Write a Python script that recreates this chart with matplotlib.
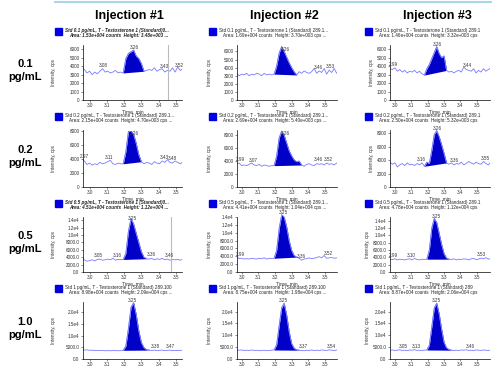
import numpy as np
import matplotlib
matplotlib.use('Agg')
import matplotlib.pyplot as plt
from matplotlib.lines import Line2D
from matplotlib.patches import Rectangle

plt.rcParams['font.family'] = ['Liberation Sans', 'DejaVu Sans']

# retention time grid (min)
time = [2.955, 2.97, 2.985, 3.0, 3.015, 3.03, 3.045, 3.06, 3.075, 3.09,
        3.105, 3.12, 3.135, 3.15, 3.165, 3.18, 3.195, 3.21, 3.225, 3.24,
        3.255, 3.27, 3.285, 3.3, 3.315, 3.33, 3.345, 3.36, 3.375, 3.39,
        3.405, 3.42, 3.435, 3.45, 3.465, 3.48, 3.495, 3.51, 3.525, 3.54,
        3.555, 3.57, 3.585]

# intensity (cps), one trace per concentration / injection
c01_inj1 = [3900, 3600, 3200, 3400, 3000, 3300, 3100, 3400, 3700, 3300, 3400, 3200, 3300, 3500, 3200, 3300,
            3200, 4900, 5500, 5700, 5900, 5200, 4900, 4300, 3400, 3500, 3600, 3500, 3800, 3400, 3600, 3700,
            3300, 3500, 3400, 3800, 3300, 3900, 3500, 3700, 3400, 3600, 3500]
c01_inj2 = [3900, 3300, 3000, 3200, 3100, 3300, 3000, 3200, 3100, 3300, 3200, 3000, 3300, 3100, 3200, 3100,
            3200, 4200, 5800, 6600, 6000, 5300, 4600, 4000, 3500, 3100, 3500, 3300, 3600, 3400, 3300, 3500,
            3900, 3300, 3600, 3400, 3900, 3200, 3700, 3400, 3900, 3300, 3600]
c01_inj3 = [4000, 3700, 3600, 3800, 3400, 3600, 3300, 3500, 3200, 3400, 3300, 3500, 3200, 3400, 3100, 2950,
            3700, 4200, 4900, 5600, 6300, 5500, 5000, 5200, 3500, 3300, 3400, 3200, 3400, 3500, 3300, 3900,
            3600, 3500, 3400, 3700, 3200, 3500, 3300, 3700, 3400, 3600, 3800]
c02_inj1 = [4000, 3700, 3200, 3400, 3100, 3300, 3200, 3500, 3300, 3400, 3600, 3800, 3300, 3200, 3400, 3300,
            3300, 5000, 7900, 7900, 7500, 6200, 4600, 3600, 3300, 3500, 3400, 3200, 3600, 3400, 3300, 3700,
            3500, 3900, 3500, 3400, 3700, 3500, 3300, 3600, 3400, 3500, 3600]
c02_inj2 = [3700, 3600, 3700, 3300, 3400, 3300, 3500, 3700, 3400, 3300, 3500, 3200, 3400, 3300, 3200, 3300,
            3300, 4800, 7600, 8600, 8000, 6800, 5600, 4800, 4200, 3900, 4000, 3400, 3200, 3500, 3600, 3400,
            3300, 3600, 3500, 3600, 3400, 3700, 3500, 3600, 3400, 3700, 3500]
c02_inj3 = [4100, 3700, 3400, 3600, 3000, 3300, 3500, 3200, 3600, 3300, 3400, 3200, 3500, 3300, 3600, 3100,
            3700, 3500, 5500, 7800, 8400, 7500, 6300, 5000, 3600, 3400, 3600, 3300, 3500, 3400, 3700, 3300,
            3500, 3800, 3600, 3400, 3700, 3500, 3400, 3800, 3500, 3300, 3700]
c05_inj1 = [3800, 3300, 2900, 3100, 3300, 3000, 3400, 3500, 3200, 3300, 3500, 3300, 3700, 3200, 3400, 3300,
            3400, 5000, 11000, 14500, 13000, 10500, 8000, 5500, 4000, 3600, 3500, 3700, 3300, 3600, 3400, 3700,
            3300, 3500, 3200, 3400, 3300, 3400, 3200, 3500, 3300, 3400, 3500]
c05_inj2 = [4200, 3900, 3400, 3500, 3300, 3400, 3300, 3500, 3400, 3300, 3500, 3400, 3600, 3300, 3500, 3400,
            3500, 5500, 11000, 14600, 14000, 11500, 8000, 5500, 4200, 3800, 3500, 3000, 3300, 3400, 3600, 3400,
            3500, 3700, 3900, 3600, 4200, 3500, 3600, 3700, 3500, 3600, 3700]
c05_inj3 = [3700, 3500, 3400, 3600, 3300, 3500, 3400, 3300, 3500, 3600, 3300, 3700, 3400, 3300, 3500, 3400,
            3500, 6000, 12000, 14600, 13500, 10500, 7500, 5000, 3800, 3500, 3400, 3600, 3300, 3500, 3400, 3600,
            3500, 3300, 3600, 3700, 3400, 3500, 3800, 3600, 3900, 3500, 3700]
c10_inj1 = [4000, 3800, 3900, 3700, 3800, 3600, 3700, 3600, 3700, 3500, 3600, 3500, 3600, 3600, 3500, 3600,
            3700, 5500, 13000, 22000, 24000, 19000, 12000, 7000, 4800, 4000, 3800, 3600, 3800, 3600, 3700, 3800,
            3600, 3700, 3800, 3600, 3700, 3600, 3700, 3600, 3700, 3600, 3700]
c10_inj2 = [4000, 3800, 3700, 3800, 3600, 3700, 3600, 3800, 3600, 3700, 3500, 3600, 3700, 3500, 3600, 3700,
            3800, 6000, 14000, 21500, 23500, 18500, 11500, 6500, 4500, 3900, 3700, 3600, 3500, 3700, 3600, 3800,
            3600, 3700, 3600, 3800, 3700, 3600, 3900, 3700, 3600, 3800, 3700]
c10_inj3 = [4000, 3700, 3800, 3600, 3700, 3900, 3600, 3700, 3600, 3800, 3700, 3900, 3600, 3700, 3600, 3700,
            3800, 5800, 13500, 21500, 23500, 19000, 12500, 7000, 4700, 4000, 3700, 3600, 3700, 3600, 3800, 3700,
            3900, 3600, 3700, 3600, 3800, 3700, 3600, 3800, 3700, 3600, 3800]

traces = [[c01_inj1, c01_inj2, c01_inj3],
          [c02_inj1, c02_inj2, c02_inj3],
          [c05_inj1, c05_inj2, c05_inj3],
          [c10_inj1, c10_inj2, c10_inj3]]

# integrated peak start / end (min)
peak_ranges = [[(3.195, 3.315), (3.195, 3.33), (3.18, 3.315)],
               [(3.195, 3.30), (3.195, 3.36), (3.18, 3.315)],
               [(3.195, 3.33), (3.195, 3.33), (3.195, 3.33)],
               [(3.195, 3.345), (3.195, 3.345), (3.195, 3.345)]]

# labelled apex times
apex_labels = [[[3.08, 3.26, 3.43, 3.52], [3.26, 3.46, 3.53], [2.99, 3.26, 3.44]],
               [[2.97, 3.11, 3.26, 3.43, 3.48], [2.99, 3.07, 3.26, 3.46, 3.52], [3.16, 3.26, 3.36, 3.55]],
               [[3.05, 3.16, 3.25, 3.36, 3.46], [2.99, 3.25, 3.36, 3.52], [2.99, 3.10, 3.25, 3.53]],
               [[3.25, 3.38, 3.47], [3.25, 3.37, 3.54], [3.05, 3.13, 3.25, 3.46]]]

row_labels = ['0.1\npg/mL', '0.2\npg/mL', '0.5\npg/mL', '1.0\npg/mL']
col_titles = ['Injection #1', 'Injection #2', 'Injection #3']

conc_text = ['0.1', '0.2', '0.5', '1']
areas = [['1.53e+004', '1.69e+004', '1.46e+004'],
         ['2.15e+004', '2.69e+004', '2.50e+004'],
         ['4.51e+004', '4.41e+004', '4.78e+004'],
         ['8.98e+004', '8.75e+004', '8.87e+004']]
heights = [['3.48e+003', '3.70e+003', '3.32e+003'],
           ['4.70e+003', '5.40e+003', '5.32e+003'],
           ['1.12e+004', '1.04e+004', '1.12e+004'],
           ['2.09e+004', '1.98e+004', '2.06e+004']]

ytick_vals = [[0, 1000, 2000, 3000, 4000, 5000, 6000],
              [0, 2000, 4000, 6000, 8000],
              [0, 2000, 4000, 6000, 8000, 10000, 12000, 14000],
              [0, 5000, 10000, 15000, 20000]]
ytick_text = [['0', '1000', '2000', '3000', '4000', '5000', '6000'],
              ['0', '2000', '4000', '6000', '8000'],
              ['0.0', '2000.0', '4000.0', '6000.0', '8000.0', '1.0e4', '1.2e4', '1.4e4'],
              ['0.0', '5000.0', '1.0e4', '1.5e4', '2.0e4']]
ymax = [[6500, 6800, 6500],
        [8100, 8800, 8500],
        [14900, 13400, 15000],
        [24300, 24000, 24000]]
xticks = [3.0, 3.1, 3.2, 3.3, 3.4, 3.5]
xlims = [(2.962, 3.535), (2.972, 3.572), (2.97, 3.58)]

# layout in pixels
W, H = 492, 366
col_x = [(83, 182), (237, 337), (390, 490)]
row_y = [(45, 100), (130, 187), (217, 272), (302, 359)]
ylab_dx = [30, 27, 18]

fig = plt.figure(figsize=(W / 100, H / 100), dpi=100)

line_col = '#7a7aff'
fill_col = '#0000c8'
txt_col = '#333333'

fig.add_artist(Line2D([55 / W, 1], [1 - 1.5 / H, 1 - 1.5 / H], color='#a8d8e8', lw=1.5))

for j, t in enumerate(col_titles):
    xc = (col_x[j][0] + col_x[j][1]) / 2 - 3
    fig.text(xc / W, 1 - 16 / H, t, ha='center', va='center', fontsize=9, fontweight='bold')

for i in range(4):
    yc = (row_y[i][0] + row_y[i][1]) / 2 - 2
    fig.text(25 / W, 1 - yc / H, row_labels[i], ha='center', va='center', fontsize=8,
             fontweight='bold', linespacing=1.3)
    for j in range(3):
        l, r = col_x[j]
        t, b = row_y[i]
        ax = fig.add_axes([l / W, 1 - b / H, (r - l) / W, (b - t) / H])
        x = np.array(time)
        y = np.array(traces[i][j], dtype=float)
        ax.plot(x, y, color=line_col, lw=0.6)
        s, e = peak_ranges[i][j]
        m = (x >= s - 1e-9) & (x <= e + 1e-9)
        base = np.interp(x[m], [s, e], [np.interp(s, x, y), np.interp(e, x, y)])
        ax.fill_between(x[m], base, y[m], color=fill_col, lw=0, clip_on=False)
        ax.plot(x[m], y[m], color=line_col, lw=0.6, clip_on=False)
        for a in apex_labels[i][j]:
            ya = np.interp(a, x, y)
            ax.annotate('%.2f' % a, (a, ya), xytext=(0, 1.2), textcoords='offset points',
                        ha='center', va='bottom', fontsize=3.3, color=txt_col, annotation_clip=False)
        ax.set_xlim(*xlims[j])
        ax.set_ylim(0, ymax[i][j])
        ax.set_xticks(xticks)
        ax.set_xticklabels(['%.1f' % v for v in xticks])
        ax.set_yticks(ytick_vals[i])
        ax.set_yticklabels(ytick_text[i])
        ax.tick_params(labelsize=3.3, length=1.5, width=0.4, pad=1, colors=txt_col)
        for sp in ['top', 'right']:
            ax.spines[sp].set_visible(False)
        for sp in ['left', 'bottom']:
            ax.spines[sp].set_linewidth(0.5)
        if i < 3:
            ax.set_xlabel('Time, min', fontsize=3.5, labelpad=0.3, color=txt_col)
        dx = ylab_dx[j] + (4 if (j == 2 and i >= 2) else 0)
        fig.text((l - dx) / W, 1 - (t + b) / 2 / H, 'Intensity, cps', rotation=90,
                 ha='center', va='center', fontsize=3.3, color=txt_col)

        # legend block
        sq_x = l - 28 if j != 2 else l - 25
        fig.add_artist(Rectangle((sq_x / W, 1 - (t - 10) / H), 7 / W, 7 / H, color='#0000e0'))
        if j == 0 and i in (0, 2):
            l1 = 'Std %s pg/mL, T - Testosterone 1 (Standard)0...' % conc_text[i]
            l2 = 'Area: %s counts  Height: %s ...' % (areas[i][j], heights[i][j])
            sty, wt = 'italic', 'bold'
        else:
            suffix = ' 289.1...' if conc_text[i] != '1' else ' 289.100'
            if j == 2:
                suffix = ' 289.1' if conc_text[i] != '1' else ' 289'
            l1 = 'Std %s pg/mL, T - Testosterone 1 (Standard)%s' % (conc_text[i], suffix)
            l2 = 'Area: %s counts  Height: %s cps%s' % (areas[i][j], heights[i][j],
                                                      ' ...' if j < 2 else '')
            sty, wt = 'normal', 'normal'
        fig.text((sq_x + 10) / W, 1 - (t - 14.5) / H, l1, fontsize=3.3, va='center', ha='left',
                 style=sty, fontweight=wt, color='#222222')
        fig.text((sq_x + 14) / W, 1 - (t - 9.8) / H, l2, fontsize=3.3, va='center', ha='left',
                 style=sty, fontweight=wt, color='#222222')

# marker lines seen in two panels
fig.axes[0].axvline(3.455, color='#bbbbbb', lw=0.8)
fig.axes[6].axvline(3.47, color='#bbbbbb', lw=0.8)

fig.savefig('out.png', dpi=100)
